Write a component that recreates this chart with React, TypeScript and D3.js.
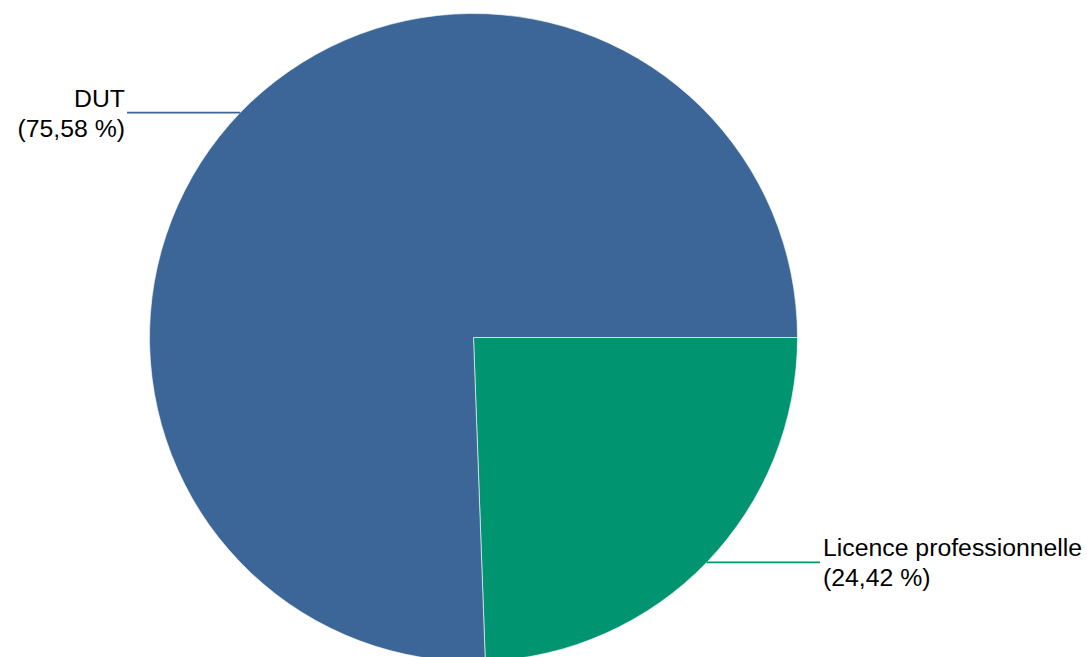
import React from "react";
import * as d3 from "d3";

const categories = ["DUT", "Licence professionnelle"];
const values = [75.58, 24.42];
const valueLabels = ["(75,58 %)", "(24,42 %)"];
const colors = ["#3b6697", "#009470"];

const W = 1087;
const H = 657;
const cx = 473.5;
const cy = 337.5;
const R = 324;

export default function App() {
  const data = categories.map((c, i) => ({ c, v: values[i], i }));
  // Licence starts at 3 o'clock, going clockwise; DUT follows.
  const pie = d3
    .pie<any>()
    .sort(null)
    .value((d) => d.v)
    .startAngle(Math.PI / 2)
    .endAngle(Math.PI / 2 + 2 * Math.PI);
  const arcs = pie([...data].reverse());
  const arcGen = d3.arc<any>().innerRadius(0).outerRadius(R);

  return (
    <div style={{ position: "fixed", left: 0, top: 0, width: W, height: H, overflow: "hidden", background: "#fff" }}>
      <svg width={W} height={H} style={{ display: "block" }}>
        <g transform={`translate(${cx},${cy})`}>
          {arcs.map((a) => (
            <path
              key={a.data.c}
              d={arcGen(a) || ""}
              fill={colors[a.data.i]}
              stroke="#ffffff"
              strokeOpacity={0.6}
              strokeWidth={1}
            />
          ))}
          {arcs.map((a) => {
            const mid = (a.startAngle + a.endAngle) / 2;
            const px = R * Math.sin(mid);
            const py = -R * Math.cos(mid);
            const left = px < 0;
            const lineEnd = left ? 127 - cx : 820 - cx;
            const textX = left ? 125 - cx : 823 - cx;
            return (
              <g key={"l" + a.data.c}>
                <line
                  x1={px}
                  y1={py}
                  x2={lineEnd}
                  y2={py}
                  stroke={colors[a.data.i]}
                  strokeWidth={1.6}
                />
                <text
                  x={textX}
                  y={py}
                  textAnchor={left ? "end" : "start"}
                  fontFamily="Liberation Sans, Arial, sans-serif"
                  fontSize={24.8}
                  fill="#000"
                >
                  <tspan x={textX} y={py - 6}>{a.data.c}</tspan>
                  <tspan x={textX} y={py + 24}>{valueLabels[a.data.i]}</tspan>
                </text>
              </g>
            );
          })}
        </g>
      </svg>
    </div>
  );
}
